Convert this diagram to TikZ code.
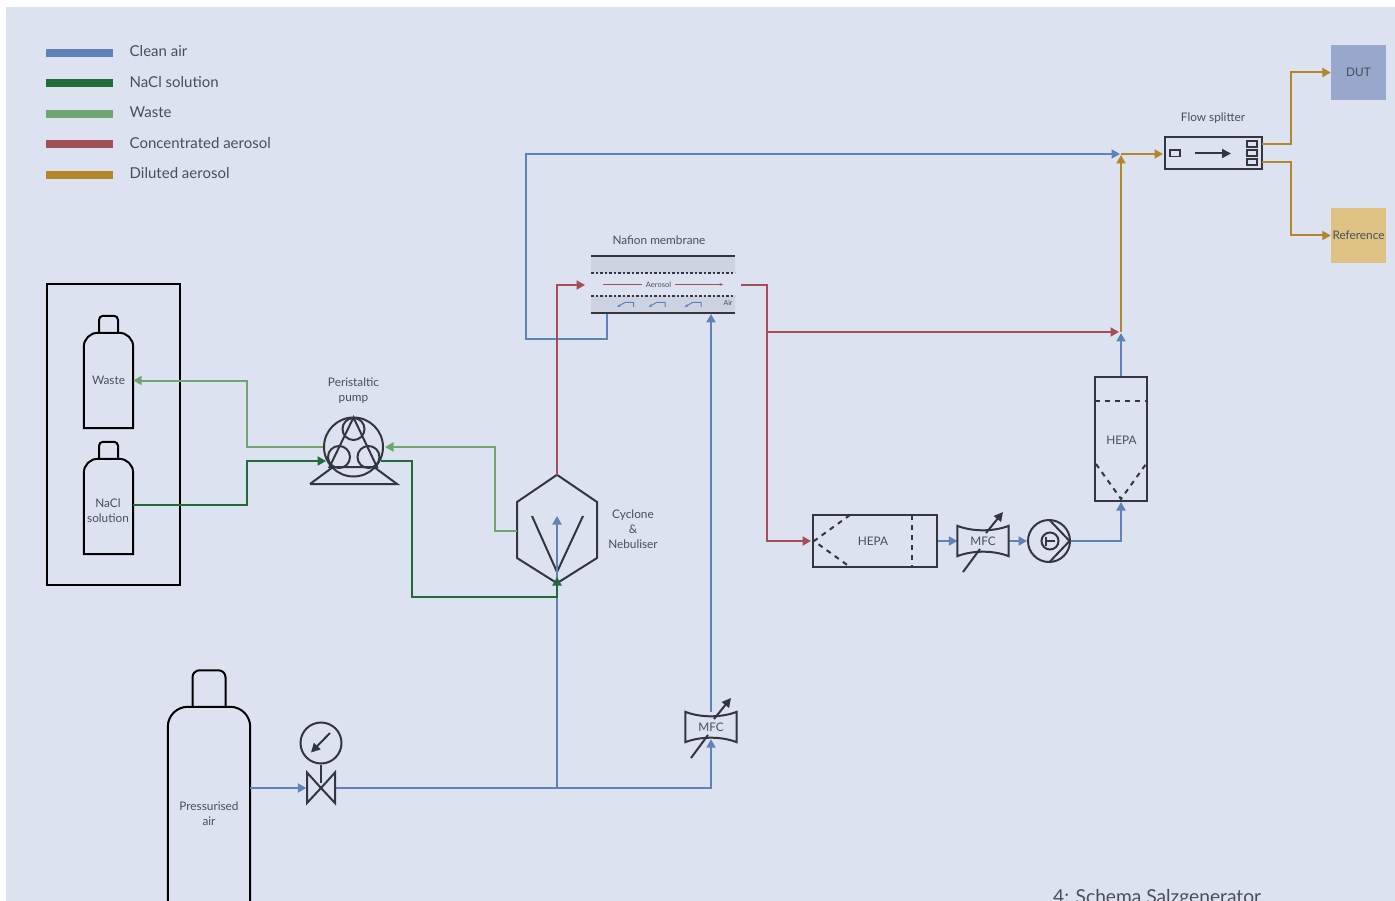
\documentclass[tikz,border=0pt]{standalone}
\usepackage{fontspec}
\setmainfont{Lato}
\usepackage{xcolor}
\usetikzlibrary{arrows.meta, positioning, shapes.geometric, calc}
\definecolor{sheet}{HTML}{DCE2F0}
\definecolor{inktext}{HTML}{4A4E5C}
\definecolor{inkpart}{HTML}{33363F}
\definecolor{cleanair}{HTML}{5F82B8}
\definecolor{naclsol}{HTML}{1F6B3A}
\definecolor{wasteflow}{HTML}{6FA56F}
\definecolor{concaero}{HTML}{A34F55}
\definecolor{diluaero}{HTML}{B5852A}
\definecolor{membrane}{HTML}{CDD3E1}
\definecolor{dutfill}{HTML}{98A7CB}
\definecolor{reffill}{HTML}{DDC283}

\begin{document}
\begin{tikzpicture}[
  x=1pt, y=-1pt,
  >={Triangle[length=8.5pt, width=9pt]},
  lbl/.style={
    text=inktext, align=center, inner sep=0pt,
    font=\fontsize{11.8}{15}\selectfont
  },
  leglabel/.style={lbl, anchor=west, font=\fontsize{15}{17}\selectfont},
  legbar/.style={minimum width=67pt, minimum height=8pt, inner sep=0pt},
  part/.style={draw=inkpart, line width=2pt},
  vessel/.style={draw=black, line width=2pt},
  flowbox/.style={part, lbl, minimum width=124pt, minimum height=52pt},
  endbox/.style={lbl, minimum width=55pt, minimum height=55pt},
  mfcbox/.style={lbl, minimum width=51pt, minimum height=30pt},
  air/.style={->, line width=2pt, cleanair},
  nacl/.style={->, line width=2pt, naclsol},
  waste/.style={->, line width=2pt, wasteflow},
  conc/.style={->, line width=2pt, concaero},
  dilu/.style={->, line width=2pt, diluaero},
  dashpart/.style={draw=inkpart, line width=2pt, dash pattern=on 5pt off 5pt},
  dotpart/.style={draw=inkpart, line width=2pt, dash pattern=on 2.5pt off 2pt},
]
\useasboundingbox (0,0) rectangle (1395,901);
\clip (0,0) rectangle (1395,901);
\fill[white] (0,0) rectangle (1395,901);
\fill[sheet] (6,7) rectangle (1395,901);

% Legend
\node[legbar, fill=cleanair]  (legair)   at (79.5,52.7)  {};
\node[legbar, fill=naclsol]   (legnacl)  at (79.5,83.2)  {};
\node[legbar, fill=wasteflow] (legwaste) at (79.5,113.7) {};
\node[legbar, fill=concaero]  (legconc)  at (79.5,144.2) {};
\node[legbar, fill=diluaero]  (legdilu)  at (79.5,174.7) {};
\node[leglabel] (legairlbl)   at (129.5,51)  {Clean air};
\node[leglabel] (legnacllbl)  at (129.5,82)  {NaCl solution};
\node[leglabel] (legwastelbl) at (129.5,112) {Waste};
\node[leglabel] (legconclbl)  at (129.5,143) {Concentrated aerosol};
\node[leglabel] (legdilulbl)  at (129.5,173) {Diluted aerosol};

% Bottles
\node[lbl, minimum width=49pt, minimum height=95pt] (wastebottle) at (108.5,380.5) {Waste};
\node[lbl, minimum width=49pt, minimum height=95pt] (naclbottle)  at (108.5,506.5) {};
\node[lbl] (nacllbl) at (108,510.5) {NaCl\\solution};
\node[lbl, minimum width=82pt, minimum height=230pt] (airbottle) at (209,822) {};
\node[lbl] (airlbl) at (209,814) {Pressurised\\air};
\node[minimum width=133pt, minimum height=300pt, draw=black, line width=2pt] (rack) at (113,434.5) {};
\foreach \b in {wastebottle, naclbottle} {
  \draw[vessel] (\b.south west) [rounded corners=14pt] -- (\b.north west) -- (\b.north east) [sharp corners] -- (\b.south east) -- cycle;
  \draw[vessel] ($(\b.north)+(-9.5,0)$) [rounded corners=4pt] -- ++(0,-17) -- ++(19,0) [sharp corners] -- ++(0,17);
}
\draw[vessel] (airbottle.south west) [rounded corners=20pt] -- (airbottle.north west) -- (airbottle.north east) [sharp corners] -- (airbottle.south east);
\draw[vessel] ($(airbottle.north)+(-16.5,0)$) [rounded corners=7pt] -- ++(0,-36.5) -- ++(33,0) [sharp corners] -- ++(0,36.5);

% Ports
\coordinate (naclout)   at (133,505);
\coordinate (pumpin)    at (326,461);
\coordinate (pumpout)   at (381,461);
\coordinate (pumpreturn) at (385,447);
\coordinate (cycwaste)  at (517,531);
\coordinate (cycnacl)   at (557,577);
\coordinate (cycair)    at (557,516);
\coordinate (airjoin)   at (557,788);
\coordinate (nafin)     at (585,285);
\coordinate (nafout)    at (741,285);
\coordinate (nafairout) at (607,313);
\coordinate (nafairin)  at (711,314);
\coordinate (bypass)    at (1120,154);
\coordinate (mixpoint)  at (1121,155);
\coordinate (concend)   at (1119,332);
\coordinate (concjoin)  at (767,332);
\coordinate (hepaup)    at (1121,333);
\coordinate (splitin)   at (1163,154);
\coordinate (splitouta) at (1262,144.5);
\coordinate (splitoutb) at (1262,162);

% Main parts
\node[part, circle, minimum size=59pt, inner sep=0pt] (pump) at (353.5,447) {};
\node[lbl] (pumplbl) at (353.5,391) {Peristaltic\\pump};
\node[minimum width=80pt, minimum height=108pt, inner sep=0pt] (cyclone) at (557,529) {};
\node[lbl] (cyclonelbl) at (633,529.5) {Cyclone\\\&\\Nebuliser};
\node[minimum width=144pt, minimum height=57pt, inner sep=0pt] (nafion) at (663,284.5) {};
\node[lbl] (nafionlbl) at (659,240) {Nafion membrane};
\node[flowbox] (hepaa) at (875,541) {};
\node[lbl] (hepaalbl) at (873,541) {HEPA};
\node[part, lbl, minimum width=52pt, minimum height=124pt] (hepab) at (1121,439) {};
\node[lbl] (hepablbl) at (1121.5,440) {HEPA};
\node[mfcbox] (mfcout) at (983,541) {MFC};
\node[mfcbox] (mfcair) at (711,727) {MFC};
\node[part, circle, minimum size=42pt, inner sep=0pt] (blower) at (1049,541) {};
\node[part, minimum width=97pt, minimum height=32pt, inner sep=0pt] (splitter) at (1213.5,153) {};
\node[lbl] (splitterlbl) at (1213,118.5) {Flow splitter};
\node[endbox, fill=dutfill] (dut) at (1358.5,72.5) {DUT};
\node[endbox, fill=reffill] (reference) at (1358.5,235.5) {Reference};
\node[minimum size=29pt, inner sep=0pt] (valve) at (321,788) {};
\node[part, circle, minimum size=41pt, inner sep=0pt] (gauge) at (321,743) {};

% Cyclone details
\draw[part] (cyclone.north) -- (597,502) -- (597,558) -- (cyclone.south) -- (517,558) -- (517,502) -- cycle;
\draw[part] (532,516) -- (557,572) -- (583,516);

% Clean air lines
\draw[air] (airbottle.east |- valve.west) -- (valve.west);
\draw[air] (valve.east) -| ($(mfcair.south)+(0,-3)$);
\draw[air] (airjoin) -- (cycair);
\draw[air, -] (mfcair.north) -- ++(0,-30);
\draw[air] ($(mfcair.north)+(0,-20)$) -- (nafairin);
\draw[air] (nafairout) -- ++(0,26) -- ++(-81,0) |- (bypass);
\draw[air] (hepaa.east) -- (mfcout.west);
\draw[air] (mfcout.east) -- (blower.west);
\draw[air] (blower.east) -| (hepab.south);
\draw[air] (hepab.north) -- (hepaup);

% Solution and waste lines
\draw[nacl] (naclout) -- ++(114,0) |- (pumpin);
\draw[nacl] (pumpout) -- ++(31,0) |- (airjoin |- 0,597) -- (cycnacl);
\draw[waste] (pump.west) -- ++(-76,0) |- (wastebottle.east);
\draw[waste] (cycwaste) -- ++(-22,0) |- (pumpreturn);

% Aerosol lines
\draw[conc] (cyclone.north) |- (nafin);
\draw[conc] (nafout) -- ++(26,0) |- ($(hepaa.west)+(-1,0)$);
\draw[conc] (concjoin) -- (concend);
\draw[dilu] (1121,332) -- (mixpoint);
\draw[dilu] (mixpoint |- bypass) -- (splitin);
\draw[dilu] (splitouta) -- ++(29,0) |- (dut.west);
\draw[dilu] (splitoutb) -- ++(29,0) |- (reference.west);

% Pump details
\draw[part] (353.5,429) circle (11pt) (339,457) circle (11pt) (368.5,457) circle (11pt);
\draw[part] (353.5,417.5) -- (329.5,467) -- (377,467) -- cycle;
\draw[part] (310,484) -- (397,484) -- (374,467) (310,484) -- (333,467);

% Membrane details
\fill[membrane] (591,256) rectangle (735,273) (591,296) rectangle (735,313);
\draw[part] (nafion.north west) -- (nafion.north east);
\draw[part] (nafion.south west) -- (nafion.south east);
\draw[dotpart] (591,273) -- (735,273);
\draw[dotpart] (591,296) -- (735,296);
\node[lbl, font=\fontsize{7.5}{8}\selectfont, inner sep=4pt] (aerosollbl) at (658.5,284.5) {Aerosol};
\node[lbl, font=\fontsize{7}{8}\selectfont] (airflowlbl) at (728,303) {Air};
\draw[line width=1pt, concaero] (aerosollbl.west) -- ++(-39,0);
\draw[line width=1pt, concaero, -{Stealth[length=3.5pt]}] (aerosollbl.east) -- ++(48,0);
\foreach \x in {617,648.5,684.5} {
  \draw[line width=1pt, cleanair, {Stealth[length=3.5pt]}-] (\x,307) -- ++(8,-4.5) -- ++(8.5,0) -- ++(0,4.5);
}

% Filter details
\draw[dashpart] (912,515) -- (912,567);
\draw[dashpart] (850,515) -- (814,541) -- (850,567);
\draw[dashpart] (1095,401) -- (1147,401);
\draw[dashpart] (1096,464) -- (1121,499) -- (1146,464);

% Flow meters
\foreach \m in {mfcout, mfcair} {
  \draw[part] (\m.north west) .. controls ($(\m.north west)+(15,6)$) and ($(\m.north east)+(-15,6)$) .. (\m.north east)
    -- (\m.south east) .. controls ($(\m.south east)+(-15,-6)$) and ($(\m.south west)+(15,-6)$) .. (\m.south west) -- cycle;
  \draw[part, -{Triangle[length=9pt, width=9pt]}] ($(\m)+(-20,31)$) -- ($(\m)+(-3,8)$) ($(\m)+(3,-8)$) -- ($(\m)+(20,-29)$);
}

% Blower details
\draw[part] (1050,520.5) -- (1069.5,541) -- (1050,561.5);
\draw[part] (1050,541) circle (8.5pt);
\draw[part, line width=1.3pt] (1046,536.5) -- (1046,545.5) (1046,541) -- (1055,541);

% Splitter details
\draw[part, line width=1.5pt] (1170,150) rectangle (1180,156.5);
\draw[part, line width=1.5pt] (1247,141) rectangle (1257,147);
\draw[part, line width=1.5pt] (1247,150) rectangle (1257,156);
\draw[part, line width=1.5pt] (1247,159) rectangle (1257,165);
\draw[part, -{Triangle[length=9pt, width=9pt]}] (1195,153.5) -- (1231,153.5);

% Valve and gauge
\draw[part] (valve.center) -- (307,772.5) -- (307,803) -- (valve.center) -- (335,772.5) -- (335,803) -- cycle;
\draw[part] (gauge.south) -- ++(0,18);
\draw[part, -{Triangle[length=9pt, width=9pt]}] (330,733) -- (311,752.5);

% Caption
\node[lbl, anchor=base west, font=\fontsize{19.2}{22}\selectfont] (caption) at (1053,903) {4: Schema Salzgenerator};

\end{tikzpicture}
\end{document}
